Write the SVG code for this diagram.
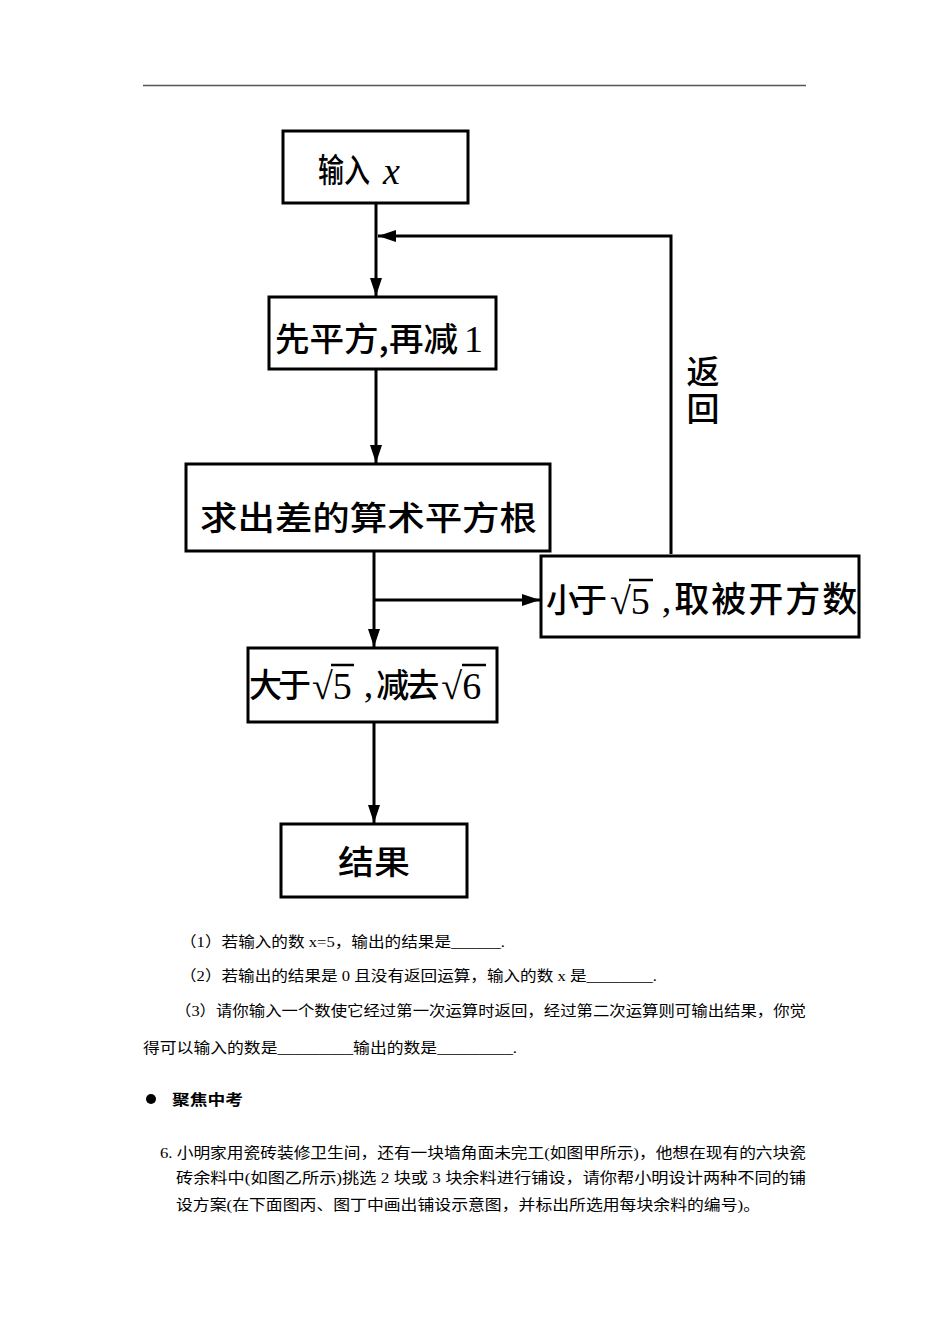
<svg xmlns="http://www.w3.org/2000/svg" width="950" height="1344" viewBox="0 0 950 1344">
<style>
.box{fill:#fff;stroke:#000;stroke-width:3}
.bt{font-family:"Noto Sans CJK SC","Liberation Sans",sans-serif;font-size:33px;font-weight:500;fill:#000}
.ser{font-family:"Liberation Serif","DejaVu Serif",serif;font-size:38px;font-weight:normal}
.cj{font-family:"Noto Sans CJK SC","Liberation Sans",sans-serif;font-weight:500}
.conn{fill:none;stroke:#000;stroke-width:3}
.q{font-family:"Liberation Serif","Noto Sans CJK SC",serif;font-size:15px;fill:#000}
.vin{stroke:#000;stroke-width:2.5}
</style>
<defs>
<marker id="ah" viewBox="0 0 18 12" refX="18" refY="6" markerWidth="18" markerHeight="12" markerUnits="userSpaceOnUse" orient="auto">
<path d="M0,0 L18,6 L0,12 Z" fill="#000"/>
</marker>
</defs>
<rect width="950" height="1344" fill="#fff"/>
<line x1="143" y1="85.5" x2="806" y2="85.5" stroke="#555" stroke-width="1.5"/>

<g id="connectors">
<line class="conn" x1="376" y1="203" x2="376" y2="296" marker-end="url(#ah)"/>
<polyline class="conn" points="671,554 671,236 378,236" marker-end="url(#ah)"/>
<line class="conn" x1="376" y1="369" x2="376" y2="463" marker-end="url(#ah)"/>
<line class="conn" x1="374" y1="551" x2="374" y2="647" marker-end="url(#ah)"/>
<line class="conn" x1="374" y1="600" x2="540" y2="600" marker-end="url(#ah)"/>
<line class="conn" x1="374" y1="722" x2="374" y2="823" marker-end="url(#ah)"/>
<text class="bt" x="703" y="355" font-size="30" writing-mode="vertical-rl" letter-spacing="4">返回</text>
</g>

<g id="n1">
<rect class="box" x="283" y="131" width="185" height="72"/>
<text class="bt" x="318" y="182" textLength="52" lengthAdjust="spacingAndGlyphs">输入</text>
<text class="ser" x="383" y="184" font-size="44" font-style="italic">x</text>
</g>

<g id="n2">
<rect class="box" x="269" y="297" width="227" height="72"/>
<text class="bt" x="275" y="351" textLength="183" lengthAdjust="spacingAndGlyphs">先平方,再减</text>
<text class="ser" x="464" y="352">1</text>
</g>

<g id="n3">
<rect class="box" x="186" y="464" width="364" height="87"/>
<text class="bt" x="200" y="530" font-size="34" textLength="337" lengthAdjust="spacingAndGlyphs">求出差的算术平方根</text>
</g>

<g id="n4">
<rect class="box" x="541" y="556" width="318" height="81"/>
<text class="bt" x="546" y="612"><tspan letter-spacing="-5">小于</tspan><tspan class="ser" dx="8" dy="2">√5</tspan><tspan class="ser" dx="12" dy="-2">,</tspan><tspan class="cj" font-size="35" letter-spacing="2" dx="3">取被开方数</tspan></text>
<line class="vin" x1="629" y1="580" x2="653" y2="580"/>
</g>

<g id="n5">
<rect class="box" x="248" y="648" width="249" height="74"/>
<text class="bt" x="249" y="697"><tspan letter-spacing="-4">大于</tspan><tspan class="ser" dx="5" dy="2">√5</tspan><tspan class="ser" dx="12" dy="-2">,</tspan><tspan letter-spacing="-3" dx="3">减去</tspan><tspan class="ser" dx="5" dy="2">√6</tspan></text>
<line class="vin" x1="331" y1="665" x2="354" y2="665"/>
<line class="vin" x1="462" y1="665" x2="486" y2="665"/>
</g>

<g id="n6">
<rect class="box" x="281" y="824" width="186" height="73"/>
<text class="bt" x="338" y="874" font-size="35" textLength="72" lengthAdjust="spacingAndGlyphs">结果</text>
</g>

<g id="questions">
<text class="q" x="180" y="947" textLength="325" lengthAdjust="spacingAndGlyphs">（1）若输入的数 x=5，输出的结果是______.</text>
<text class="q" x="180" y="981" textLength="477" lengthAdjust="spacingAndGlyphs">（2）若输出的结果是 0 且没有返回运算，输入的数 x 是________.</text>
<text class="q" x="175" y="1016" textLength="631" lengthAdjust="spacingAndGlyphs">（3）请你输入一个数使它经过第一次运算时返回，经过第二次运算则可输出结果，你觉</text>
<text class="q" x="143" y="1053" textLength="374" lengthAdjust="spacingAndGlyphs">得可以输入的数是_________输出的数是_________.</text>
<circle cx="151" cy="1099" r="5" fill="#000"/>
<text class="q" x="172" y="1105" font-weight="bold" textLength="71" lengthAdjust="spacingAndGlyphs">聚焦中考</text>
<text class="q" x="160" y="1158" textLength="646" lengthAdjust="spacingAndGlyphs">6. 小明家用瓷砖装修卫生间，还有一块墙角面未完工(如图甲所示)，他想在现有的六块瓷</text>
<text class="q" x="176" y="1183" textLength="630" lengthAdjust="spacingAndGlyphs">砖余料中(如图乙所示)挑选 2 块或 3 块余料进行铺设，请你帮小明设计两种不同的铺</text>
<text class="q" x="176" y="1210" textLength="584" lengthAdjust="spacingAndGlyphs">设方案(在下面图丙、图丁中画出铺设示意图，并标出所选用每块余料的编号)。</text>
</g>
</svg>
